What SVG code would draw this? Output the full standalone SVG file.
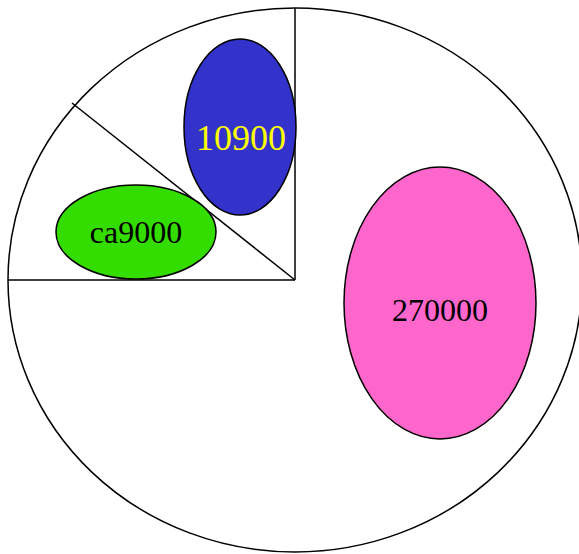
<svg xmlns="http://www.w3.org/2000/svg" width="579" height="554" viewBox="0 0 579 554">
<style>
.o{stroke:#000;stroke-width:1.5}
.t{font-family:"Liberation Serif",serif;text-anchor:middle}
</style>
<rect width="579" height="554" fill="#fff"/>
<g id="pie">
<ellipse class="o" cx="295" cy="280" rx="287" ry="272" fill="#fff"/>
</g>
<g id="connectors" class="o" fill="none">
<line x1="8" y1="280" x2="295" y2="280"/>
<line x1="295" y1="8" x2="295" y2="280"/>
<line x1="295" y1="280" x2="72" y2="103"/>
</g>
<g id="n10900">
<ellipse class="o" cx="240" cy="127" rx="56" ry="88" fill="#3333cc"/>
<text class="t" x="241" y="150" font-size="36" fill="#ffff00">10900</text>
</g>
<g id="ca9000">
<ellipse class="o" cx="136" cy="232" rx="80" ry="47" fill="#33dd00"/>
<text class="t" x="136" y="243" font-size="32" fill="#000">ca9000</text>
</g>
<g id="n270000">
<ellipse class="o" cx="440" cy="303" rx="96" ry="136" fill="#ff66cc"/>
<text class="t" x="440" y="321" font-size="32" fill="#000">270000</text>
</g>
</svg>
